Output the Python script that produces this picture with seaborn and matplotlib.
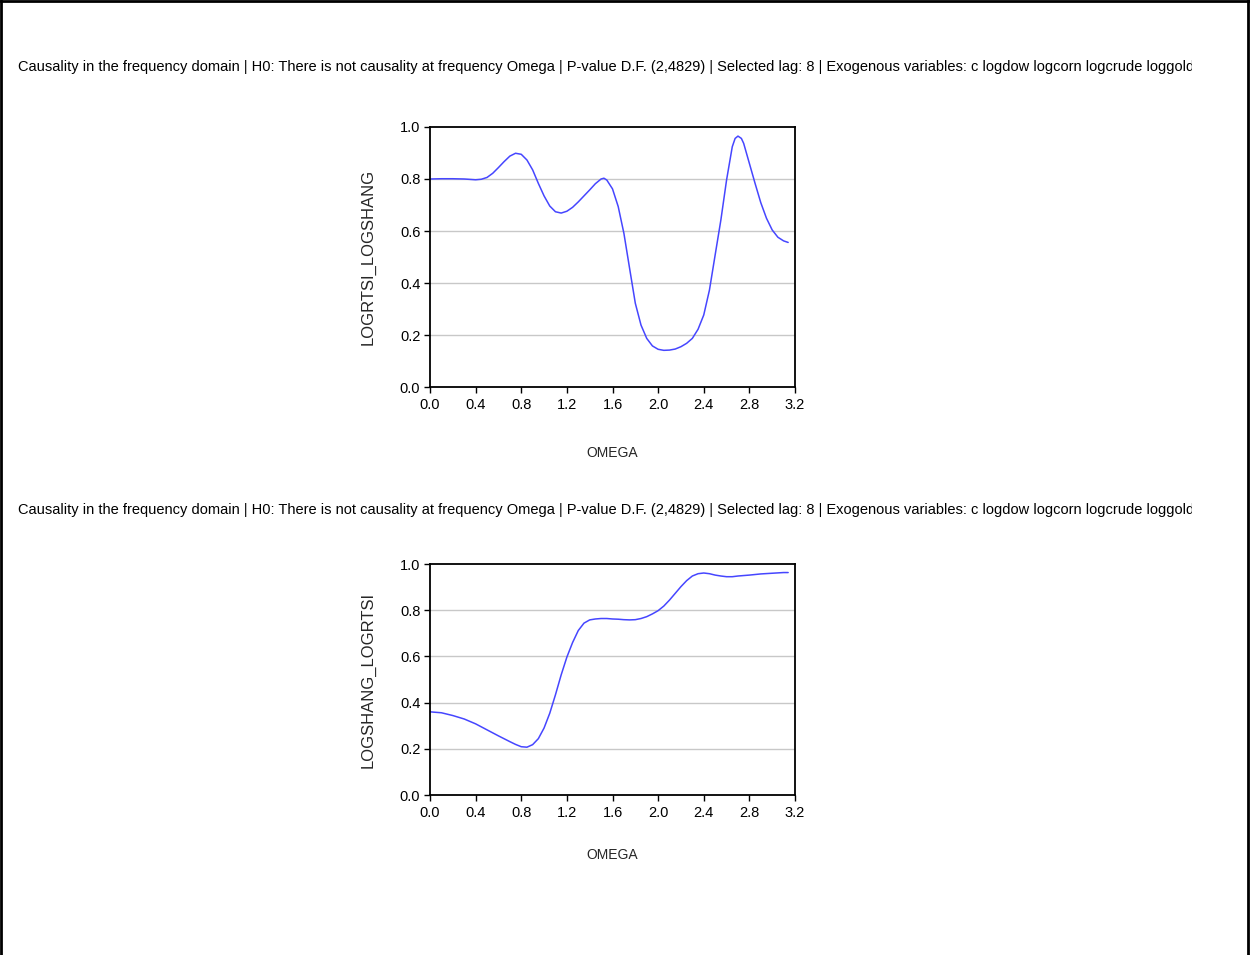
import matplotlib
matplotlib.use("Agg")
import matplotlib.pyplot as plt
from matplotlib.lines import Line2D
from matplotlib.transforms import Bbox, TransformedBbox
import seaborn as sns
import pandas as pd

# Frequency-domain causality p-values along omega in [0, pi]
omega_top = [0.0, 0.1, 0.2, 0.3, 0.4, 0.45, 0.5, 0.55, 0.6, 0.65, 0.7, 0.75, 0.8,
             0.85, 0.9, 0.95, 1.0, 1.05, 1.1, 1.15, 1.2, 1.25, 1.3, 1.35, 1.4,
             1.45, 1.5, 1.525, 1.55, 1.6, 1.65, 1.7, 1.75, 1.8, 1.85, 1.9, 1.95,
             2.0, 2.05, 2.1, 2.15, 2.2, 2.25, 2.3, 2.35, 2.4, 2.45, 2.5, 2.55,
             2.6, 2.65, 2.675, 2.7, 2.73, 2.75, 2.8, 2.85, 2.9, 2.95, 3.0, 3.05,
             3.1, 3.14]
pval_top = [0.800, 0.801, 0.801, 0.800, 0.797, 0.799, 0.806, 0.822, 0.844, 0.867,
            0.888, 0.899, 0.895, 0.873, 0.835, 0.783, 0.735, 0.696, 0.674, 0.669,
            0.676, 0.691, 0.712, 0.735, 0.758, 0.782, 0.800, 0.803, 0.796, 0.762,
            0.694, 0.591, 0.456, 0.322, 0.238, 0.187, 0.158, 0.145, 0.141, 0.142,
            0.146, 0.155, 0.168, 0.187, 0.222, 0.277, 0.373, 0.508, 0.642, 0.796,
            0.924, 0.956, 0.965, 0.956, 0.937, 0.860, 0.783, 0.709, 0.649, 0.604,
            0.576, 0.562, 0.556]

omega_bot = [0.0, 0.1, 0.2, 0.3, 0.4, 0.5, 0.6, 0.7, 0.75, 0.8, 0.85, 0.9, 0.95,
             1.0, 1.05, 1.1, 1.15, 1.2, 1.25, 1.3, 1.35, 1.4, 1.45, 1.5, 1.55,
             1.6, 1.65, 1.7, 1.75, 1.8, 1.85, 1.9, 1.95, 2.0, 2.05, 2.1, 2.15,
             2.2, 2.25, 2.3, 2.35, 2.4, 2.45, 2.5, 2.55, 2.6, 2.65, 2.7, 2.8,
             2.9, 3.0, 3.1, 3.14]
pval_bot = [0.360, 0.356, 0.344, 0.329, 0.308, 0.282, 0.256, 0.231, 0.219, 0.209,
            0.207, 0.218, 0.244, 0.290, 0.354, 0.434, 0.520, 0.597, 0.660, 0.712,
            0.744, 0.758, 0.762, 0.764, 0.764, 0.762, 0.761, 0.759, 0.758, 0.759,
            0.764, 0.772, 0.784, 0.798, 0.818, 0.844, 0.873, 0.902, 0.928, 0.948,
            0.958, 0.961, 0.958, 0.952, 0.948, 0.945, 0.945, 0.948, 0.952, 0.957,
            0.960, 0.963, 0.963]

ylabels = ["LOGRTSI_LOGSHANG", "LOGSHANG_LOGRTSI"]
xlabel = "OMEGA"
xticks = [0.0, 0.4, 0.8, 1.2, 1.6, 2.0, 2.4, 2.8, 3.2]
yticks = [0.0, 0.2, 0.4, 0.6, 0.8, 1.0]
title = ("Causality in the frequency domain | H0: There is not causality at frequency Omega | "
         "P-value D.F. (2,4829) | Selected lag: 8 | Exogenous variables: c logdow logcorn "
         "logcrude loggold")

sns.set_style("ticks")
plt.rcParams["font.family"] = ["Liberation Sans", "DejaVu Sans"]

W, H = 1250, 955
fig = plt.figure(figsize=(W / 100, H / 100), dpi=100)
fig.patch.set_facecolor("white")

# outer frame (left, top, right)
for xs, ys in [([1.5 / W, 1.5 / W], [0, 1]),
               ([0, 1], [1 - 1.5 / H, 1 - 1.5 / H]),
               ([1 - 2 / W, 1 - 2 / W], [0, 1])]:
    fig.add_artist(Line2D(xs, ys, transform=fig.transFigure, color="black", lw=2))

panels = [
    dict(omega=omega_top, pval=pval_top, ylabel=ylabels[0],
         rect=(430, 127, 795, 387), title_y=67, xlab_y=453),
    dict(omega=omega_bot, pval=pval_bot, ylabel=ylabels[1],
         rect=(430, 564, 795, 795), title_y=510, xlab_y=855),
]

clip = TransformedBbox(Bbox([[0, 0], [1192 / W, 1]]), fig.transFigure)

for p in panels:
    x0, y0, x1, y1 = p["rect"]
    ax = fig.add_axes([x0 / W, 1 - y1 / H, (x1 - x0) / W, (y1 - y0) / H])
    df = pd.DataFrame({"omega": p["omega"], "pval": p["pval"]})
    sns.lineplot(data=df, x="omega", y="pval", ax=ax, color="#4646ff", lw=1.1)
    ax.set_xlim(0, 3.2)
    ax.set_ylim(0, 1.0)
    ax.set_xticks(xticks)
    ax.set_yticks(yticks)
    ax.set_xticklabels([f"{v:.1f}" for v in xticks])
    ax.set_yticklabels([f"{v:.1f}" for v in yticks])
    for g in [0.2, 0.4, 0.6, 0.8]:
        ax.axhline(g, color="#c8c8c8", lw=1.0, zorder=0)
    for s in ax.spines.values():
        s.set_visible(True)
        s.set_color("black")
        s.set_linewidth(1.3)
    ax.tick_params(direction="out", length=4.5, width=1, labelsize=10.5,
                   colors="black")
    ax.tick_params(axis="x", pad=3.5)
    ax.tick_params(axis="y", pad=2.5)
    ax.set_xlabel(xlabel, fontsize=10, va="center")
    ax.xaxis.set_label_coords(0.5, -(p["xlab_y"] - y1) / (y1 - y0))
    ax.set_ylabel(p["ylabel"], fontsize=12, va="center")
    ax.yaxis.set_label_coords(-(x0 - 368) / (x1 - x0), 0.5)

    t = fig.text(18 / W, 1 - p["title_y"] / H, title, fontsize=10.5,
                 ha="left", va="center", color="black")
    t.set_clip_box(clip)
    t.set_clip_on(True)

fig.savefig("out.png", dpi=100, facecolor="white")
